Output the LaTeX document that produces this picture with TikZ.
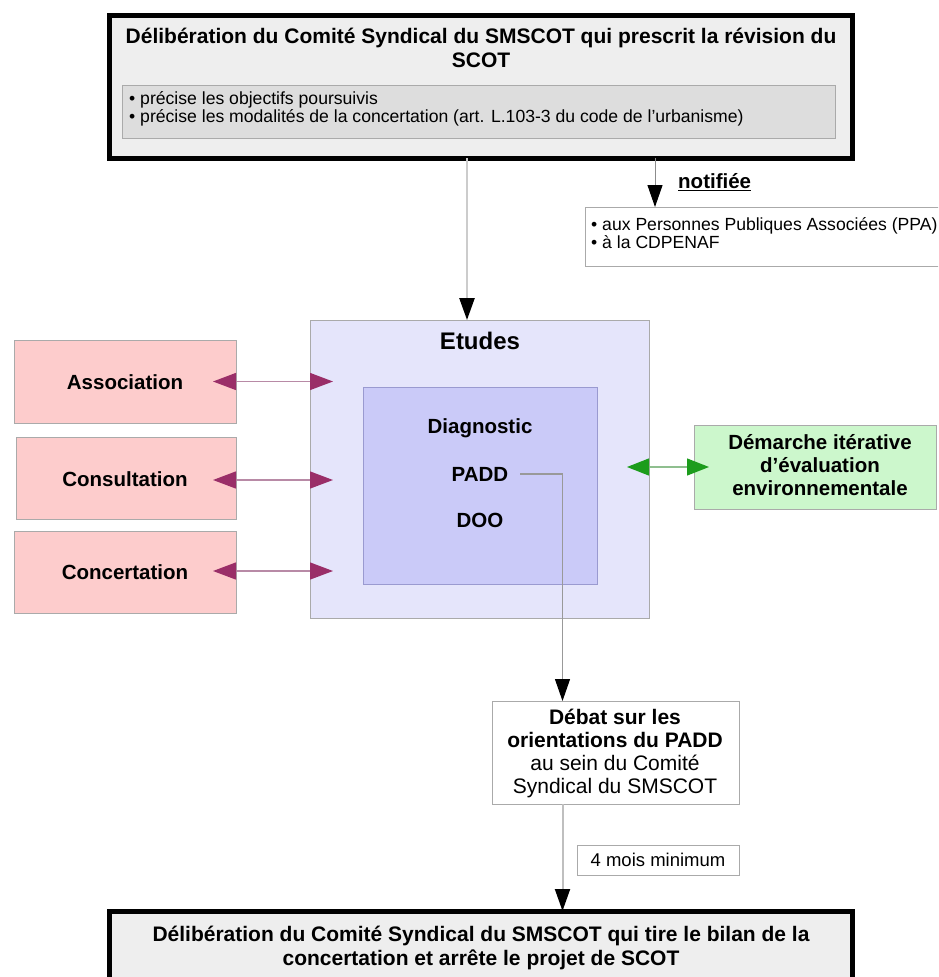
\documentclass[tikz,border=0pt]{standalone}
\usepackage{fontspec}
\setmainfont{Liberation Sans}
\usetikzlibrary{arrows.meta}
\definecolor{topfill}{HTML}{EEEEEE}
\definecolor{graybox}{HTML}{DDDDDD}
\definecolor{grayedge}{HTML}{AAAAAA}
\definecolor{etfill}{HTML}{E5E5FB}
\definecolor{infill}{HTML}{CACAF8}
\definecolor{inedge}{HTML}{9A9AD0}
\definecolor{pinkfill}{HTML}{FDCCCC}
\definecolor{greenfill}{HTML}{CCF7CC}
\definecolor{purplehead}{HTML}{9A2E68}
\definecolor{purpleline}{HTML}{B88AA6}
\definecolor{greenhead}{HTML}{1C9C1C}
\definecolor{greenline}{HTML}{8FBF8F}
\newcommand\myfs[2]{\fontsize{#1}{#2}\selectfont}
\begin{document}
\begin{tikzpicture}[x=1pt,y=-1pt,
  box/.style={rectangle, anchor=north west, inner sep=0pt, outer sep=0pt},
  thickbox/.style={box, draw=black, line width=5pt, fill=topfill},
  thinbox/.style={box, draw=grayedge, line width=1pt},
  ttl/.style={font=\bfseries\myfs{21}{24}, align=center, inner sep=0pt},
  bul/.style={font=\myfs{17.6}{17.5}, align=left, inner sep=0pt, anchor=west},
  lbl/.style={font=\bfseries\myfs{20.5}{23}, align=center, inner sep=0pt},
  blackarrow/.style={-{Triangle[length=22pt,width=15pt,color=black]}},
  parrow/.style={{Triangle[length=23pt,width=17pt,color=purplehead]}-{Triangle[length=23pt,width=17pt,color=purplehead]}, draw=purpleline, line width=1.3pt},
  garrow/.style={{Triangle[length=22pt,width=17pt,color=greenhead]}-{Triangle[length=22pt,width=17pt,color=greenhead]}, draw=greenline, line width=1.3pt}
]
\useasboundingbox (0,0) rectangle (938,977);
\clip (0,0) rectangle (938,977);
\fill[white] (0,0) rectangle (938,977);

% top box
\node[thickbox, minimum width=743pt, minimum height=143pt] (top) at (109,15) {};
\node[ttl] (toptitle) at (481,48) {Délibération du Comité Syndical du SMSCOT qui prescrit la révision du\\SCOT};
\node[thinbox, fill=graybox, minimum width=713pt, minimum height=53pt] (topin) at (122,85) {};
\node[bul] (topbul) at (129,109) {• précise les objectifs poursuivis\\• précise les modalités de la concertation (art. L.103-3 du code de l'urbanisme)};

% notifiee
\node[thinbox, fill=white, minimum width=360pt, minimum height=59pt] (notif) at (585,207) {};
\node[bul, font=\myfs{17.6}{16.5}] (notiftxt) at (591,233) {• aux Personnes Publiques Associées (PPA)\\• à la CDPENAF};
\node[font=\bfseries\myfs{20.5}{23}, inner sep=0pt, anchor=west] (notiflbl) at (678,182) {\underline{notifiée}};

% Etudes
\node[thinbox, fill=etfill, minimum width=339pt, minimum height=298pt] (etudes) at (310,320) {};
\node[font=\bfseries\myfs{24}{28}, inner sep=0pt] (etudeslbl) at (480,341) {Etudes};
\node[box, draw=inedge, line width=1pt, fill=infill, minimum width=234pt, minimum height=197pt] (inner) at (363,387) {};
\node[lbl] (diag) at (480,428) {Diagnostic};
\node[lbl] (padd) at (480,474) {PADD};
\node[lbl] (doo) at (480,520) {DOO};

% left boxes
\node[thinbox, fill=pinkfill, minimum width=222pt, minimum height=83pt] (assoc) at (14,340) {};
\node[lbl] (assoclbl) at (125,382) {Association};
\node[thinbox, fill=pinkfill, minimum width=220pt, minimum height=82pt] (consult) at (16,437) {};
\node[lbl] (consultlbl) at (125,479) {Consultation};
\node[thinbox, fill=pinkfill, minimum width=222pt, minimum height=82pt] (concert) at (14,531) {};
\node[lbl] (concertlbl) at (125,572) {Concertation};

% green box
\node[thinbox, fill=greenfill, minimum width=242pt, minimum height=84pt] (green) at (694,425) {};
\node[lbl] (greenlbl) at (820,465) {Démarche itérative\\d'évaluation\\environnementale};

% debat
\node[thinbox, fill=white, minimum width=247pt, minimum height=103pt] (debat) at (492,701) {};
\node[font=\myfs{21}{23}, align=center, inner sep=0pt] (debatlbl) at (615,753) {\textbf{Débat sur les}\\\textbf{orientations du PADD}\\au sein du Comité\\Syndical du SMSCOT};

% 4 mois
\node[thinbox, fill=white, minimum width=162pt, minimum height=30pt] (mois) at (577,845) {};
\node[font=\myfs{18.5}{21}, inner sep=0pt] (moislbl) at (658,860) {4 mois minimum};

% bottom box
\node[thickbox, minimum width=743pt, minimum height=100pt] (bottom) at (109,911) {};
\node[ttl] (bottitle) at (481,948) {Délibération du Comité Syndical du SMSCOT qui tire le bilan de la\\concertation et arrête le projet de SCOT};

% connectors
\coordinate (c1) at ([xshift=-12.5pt]etudes.north);
\draw[blackarrow, draw=black!20, line width=2.5pt] (c1 |- top.south) -- (c1);
\coordinate (c2) at ([xshift=70pt]notif.north west);
\draw[blackarrow, draw=black!45, line width=1pt] (c2 |- top.south) -- (c2);

\draw[parrow] ([xshift=-23pt]assoc.east) -- ([xshift=23pt]assoc.east -| etudes.west);
\draw[parrow] ([xshift=-23pt,yshift=-2pt]consult.east) -- ([xshift=23pt,yshift=-2pt]consult.east -| etudes.west);
\draw[parrow] ([xshift=-23pt,yshift=1pt]concert.east) -- ([xshift=23pt,yshift=1pt]concert.east -| etudes.west);
\draw[garrow] ([xshift=-22pt]etudes.east |- green.west) -- ([xshift=15pt]green.west);

\coordinate (c3) at ([xshift=-53pt]debat.north);
\draw[blackarrow, draw=black!40, line width=1.2pt] ([xshift=12pt]padd.east) -| (c3);
\coordinate (c4) at ([xshift=-53pt]debat.south);
\draw[blackarrow, draw=black!25, line width=2pt] (c4) -- (c4 |- bottom.north);
\end{tikzpicture}
\end{document}
